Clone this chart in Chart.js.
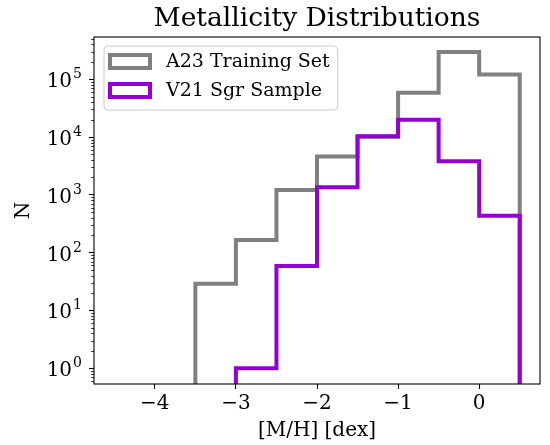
<!DOCTYPE html>
<html>
<head>
<meta charset="utf-8">
<script src="https://cdn.jsdelivr.net/npm/chart.js@4"></script>
<style>
  html, body { margin: 0; padding: 0; background: #fff; }
  canvas { display: block; }
</style>
</head>
<body>
<canvas id="mdf" width="550" height="445"></canvas>
<script>
// histogram bins (dex) and counts
const a23Edges = [-3.5, -3, -2.5, -2, -1.5, -1, -0.5, 0, 0.5];
const a23Counts = [29, 165, 1215, 4590, 10100, 58300, 295000, 121000];
const v21Edges = [-3, -2.5, -2, -1.5, -1, -0.5, 0, 0.5];
const v21Counts = [1, 59, 1350, 10300, 19900, 3810, 436];

const xTicks = [-4, -3, -2, -1, 0];
const yTicks = [1, 10, 100, 1000, 10000, 100000];
const labels = ["A23 Training Set", "V21 Sgr Sample"];
const colors = ["#808080", "#9400d3"];

const FONT = "'DejaVu Serif', 'Liberation Serif', serif";

// outline of a step histogram, dropping to (below) zero at both ends
function stepPoints(edges, counts) {
  const floor = 1e-3;
  const pts = [{ x: edges[0], y: floor }];
  counts.forEach((c, i) => {
    pts.push({ x: edges[i], y: c });
    pts.push({ x: edges[i + 1], y: c });
  });
  pts.push({ x: edges[edges.length - 1], y: floor });
  return pts;
}

// frame, minor ticks, 10^k labels, titles and the legend
const decor = {
  id: "decor",
  afterDraw(chart) {
    const ctx = chart.ctx;
    const a = chart.chartArea;
    const ys = chart.scales.y;
    ctx.save();

    // minor log ticks
    ctx.strokeStyle = "#000";
    ctx.lineWidth = 0.8;
    for (let k = -1; k <= 5; k++) {
      for (let m = 2; m <= 9; m++) {
        const v = m * Math.pow(10, k);
        if (v < ys.min || v > ys.max) continue;
        const py = Math.round(ys.getPixelForValue(v)) + 0.5;
        ctx.beginPath();
        ctx.moveTo(a.left - 2.8, py);
        ctx.lineTo(a.left, py);
        ctx.stroke();
      }
    }

    // y tick labels as 10 with a raised exponent
    ctx.fillStyle = "#000";
    ctx.textBaseline = "alphabetic";
    ctx.textAlign = "left";
    yTicks.forEach(v => {
      const py = ys.getPixelForValue(v);
      const exp = String(Math.round(Math.log10(v)));
      ctx.font = "14px " + FONT;
      const ew = ctx.measureText(exp).width;
      ctx.font = "20px " + FONT;
      const bw = ctx.measureText("10").width;
      const right = a.left - 12;
      ctx.fillText("10", right - ew - bw - 1, py + 8);
      ctx.font = "14px " + FONT;
      ctx.fillText(exp, right - ew, py - 1);
    });

    // spines
    ctx.lineWidth = 1.1;
    ctx.strokeRect(a.left, a.top, a.right - a.left, a.bottom - a.top);

    // title and axis labels
    ctx.textAlign = "center";
    ctx.textBaseline = "middle";
    ctx.font = "26.5px " + FONT;
    ctx.fillText("Metallicity Distributions", (a.left + a.right) / 2, 19);
    ctx.font = "20px " + FONT;
    ctx.fillText("[M/H] [dex]", (a.left + a.right) / 2, 431);
    ctx.save();
    ctx.translate(24, (a.top + a.bottom) / 2);
    ctx.rotate(-Math.PI / 2);
    ctx.fillText("N", 0, 0);
    ctx.restore();

    // legend
    ctx.font = "19px " + FONT;
    const textW = Math.max(...labels.map(t => ctx.measureText(t).width));
    const fx = a.left + 10, fy = a.top + 9;
    const fw = 62 + textW + 8, fh = 64;
    ctx.beginPath();
    ctx.roundRect(fx, fy, fw, fh, 4);
    ctx.fillStyle = "rgba(255,255,255,0.8)";
    ctx.fill();
    ctx.strokeStyle = "#cccccc";
    ctx.lineWidth = 1;
    ctx.stroke();
    labels.forEach((t, i) => {
      const cy = fy + 15.5 + i * 29;
      ctx.strokeStyle = colors[i];
      ctx.lineWidth = 4;
      ctx.lineJoin = "miter";
      ctx.strokeRect(fx + 6, cy - 6.5, 40, 13);
      ctx.fillStyle = "#000";
      ctx.textAlign = "left";
      ctx.fillText(t, fx + 62, cy + 1);
    });
    ctx.restore();
  }
};

new Chart(document.getElementById("mdf"), {
  type: "line",
  data: {
    datasets: [
      {
        label: labels[0],
        data: stepPoints(a23Edges, a23Counts),
        borderColor: colors[0],
        borderWidth: 4,
        order: 1
      },
      {
        label: labels[1],
        data: stepPoints(v21Edges, v21Counts),
        borderColor: colors[1],
        borderWidth: 4,
        order: 0
      }
    ]
  },
  options: {
    responsive: false,
    devicePixelRatio: 1,
    animation: false,
    layout: { padding: { top: 37, right: 10, left: 0, bottom: 0 } },
    elements: {
      line: { tension: 0, fill: false, borderJoinStyle: "miter", borderCapStyle: "butt" },
      point: { radius: 0, hoverRadius: 0 }
    },
    datasets: { line: { clip: 0 } },
    plugins: {
      legend: { display: false },
      tooltip: { enabled: false },
      title: { display: false }
    },
    scales: {
      x: {
        type: "linear",
        min: -4.75,
        max: 0.75,
        afterFit(s) { s.height = 61; },
        afterBuildTicks(s) { s.ticks = xTicks.map(v => ({ value: v })); },
        border: { display: false },
        grid: { drawOnChartArea: false, tickLength: 5, tickWidth: 1.1, tickColor: "#000" },
        ticks: {
          autoSkip: false,
          maxRotation: 0,
          padding: 3,
          color: "#000",
          font: { family: FONT, size: 20 },
          callback: v => (v < 0 ? "\u2212" + Math.abs(v) : String(v))
        }
      },
      y: {
        type: "logarithmic",
        min: 0.535,
        max: 537000,
        afterFit(s) { s.width = 94; },
        afterBuildTicks(s) { s.ticks = yTicks.map(v => ({ value: v })); },
        border: { display: false },
        grid: { drawOnChartArea: false, tickLength: 5, tickWidth: 1.1, tickColor: "#000" },
        ticks: { display: false }
      }
    }
  },
  plugins: [decor]
});
</script>
</body>
</html>
